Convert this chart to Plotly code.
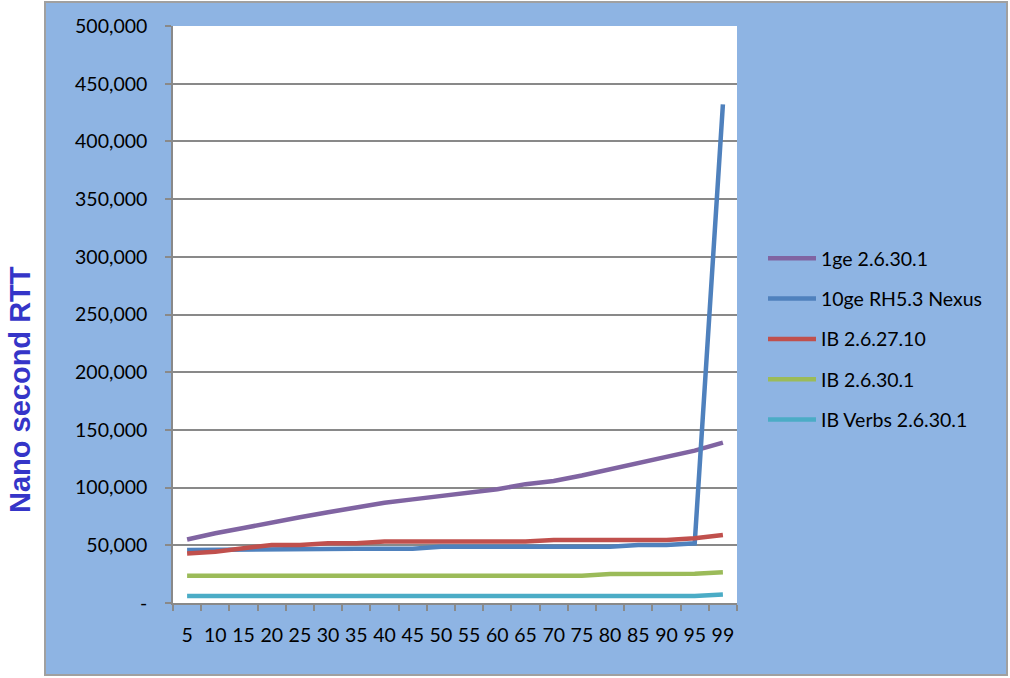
import plotly.graph_objects as go

# Percentile buckets on the x axis
percentiles = ["5", "10", "15", "20", "25", "30", "35", "40", "45", "50",
               "55", "60", "65", "70", "75", "80", "85", "90", "95", "99"]

# Round-trip time in nanoseconds per transport
rtt_1ge_2_6_30_1 = [55000, 60500, 65000, 70000, 74300, 78700, 82700, 86800, 89800, 92600,
                    95500, 98500, 103000, 105800, 110500, 116000, 121000, 126500, 132000, 139000]
rtt_10ge_rh53_nexus = [46000, 46300, 46600, 47000, 47000, 47000, 47000, 47000, 47000, 48700,
                       48700, 48700, 48700, 48700, 48700, 48700, 50200, 50300, 51700, 432000]
rtt_ib_2_6_27_10 = [43000, 44400, 47400, 50300, 50300, 51700, 51700, 53200, 53200, 53200,
                    53200, 53200, 53200, 54700, 54700, 54700, 54700, 54700, 56100, 59000]
rtt_ib_2_6_30_1 = [23700, 23700, 23700, 23700, 23700, 23700, 23700, 23700, 23700, 23700,
                   23700, 23700, 23700, 23700, 23700, 25100, 25300, 25300, 25300, 26600]
rtt_ib_verbs_2_6_30_1 = [6100, 6100, 6100, 6100, 6100, 6100, 6100, 6100, 6100, 6100,
                         6100, 6100, 6100, 6100, 6100, 6100, 6100, 6100, 6100, 7300]

y_tick_values = [0, 50000, 100000, 150000, 200000, 250000, 300000, 350000, 400000, 450000, 500000]
y_tick_labels = ["-", "50,000", "100,000", "150,000", "200,000", "250,000",
                 "300,000", "350,000", "400,000", "450,000", "500,000"]

series = [
    ("1ge 2.6.30.1", rtt_1ge_2_6_30_1, "#8064A2"),
    ("10ge RH5.3 Nexus", rtt_10ge_rh53_nexus, "#4F81BD"),
    ("IB 2.6.27.10", rtt_ib_2_6_27_10, "#C0504D"),
    ("IB 2.6.30.1", rtt_ib_2_6_30_1, "#9BBB59"),
    ("IB Verbs 2.6.30.1", rtt_ib_verbs_2_6_30_1, "#4BACC6"),
]

fig = go.Figure()
for i, (name, values, color) in enumerate(series):
    fig.add_trace(go.Scatter(
        x=percentiles, y=values, name=name, mode="lines",
        line=dict(color=color, width=4.5),
        legendgroup=f"g{i}",
    ))

label_font = dict(family="Lato, Calibri, sans-serif", size=19.5, color="#000000")
grey = "#898989"

# Page geometry in pixels
W, H = 1010, 678
L, R, T, B = 173, 737, 26, 603
pw, ph = R - L, B - T

def px_x(x):
    return (x - L) / pw

def px_y(y):
    return (B - y) / ph

fig.update_layout(
    width=W, height=H,
    margin=dict(l=L, r=W - R, t=T, b=H - B, pad=0),
    paper_bgcolor="#FFFFFF",
    plot_bgcolor="#FFFFFF",
    font=label_font,
    showlegend=True,
    legend=dict(
        x=px_x(763), y=px_y(239), xanchor="left", yanchor="top",
        bgcolor="rgba(0,0,0,0)", font=label_font,
        tracegroupgap=12, itemwidth=48,
    ),
    xaxis=dict(
        type="category", range=[-0.5, len(percentiles) - 0.5],
        showgrid=False,
        showline=True, linecolor=grey, linewidth=1.5,
        ticks="outside", ticklen=6, tickcolor=grey, tickwidth=1.5,
        tickson="boundaries", ticklabelstandoff=14, tickangle=0,
        tickfont=label_font,
    ),
    yaxis=dict(
        range=[0, 500000], tickvals=y_tick_values, ticktext=y_tick_labels,
        showgrid=True, gridcolor=grey, gridwidth=1.5,
        showline=True, linecolor=grey, linewidth=1.5,
        ticks="outside", ticklen=6, tickcolor=grey, tickwidth=1.5,
        ticklabelstandoff=14, zeroline=False,
        tickfont=label_font,
    ),
    shapes=[
        # chart-area panel behind the axes
        dict(
            type="rect", xref="paper", yref="paper", layer="below",
            x0=px_x(45), x1=px_x(1007), y0=px_y(675), y1=px_y(2),
            fillcolor="#8EB4E3", line=dict(color="#A0A0A0", width=2),
        ),
        # white plotting area
        dict(
            type="rect", xref="paper", yref="paper", layer="below",
            x0=0, x1=1, y0=0, y1=1,
            fillcolor="#FFFFFF", line=dict(width=0),
        ),
    ],
    annotations=[dict(
        text="<b>Nano second RTT</b>", xref="paper", yref="paper",
        x=px_x(20), y=px_y(390), textangle=-90, showarrow=False,
        xanchor="center", yanchor="middle",
        font=dict(family="Liberation Sans, Arial, sans-serif", size=29, color="#3535C8"),
    )],
)

fig.write_html("out.html")
